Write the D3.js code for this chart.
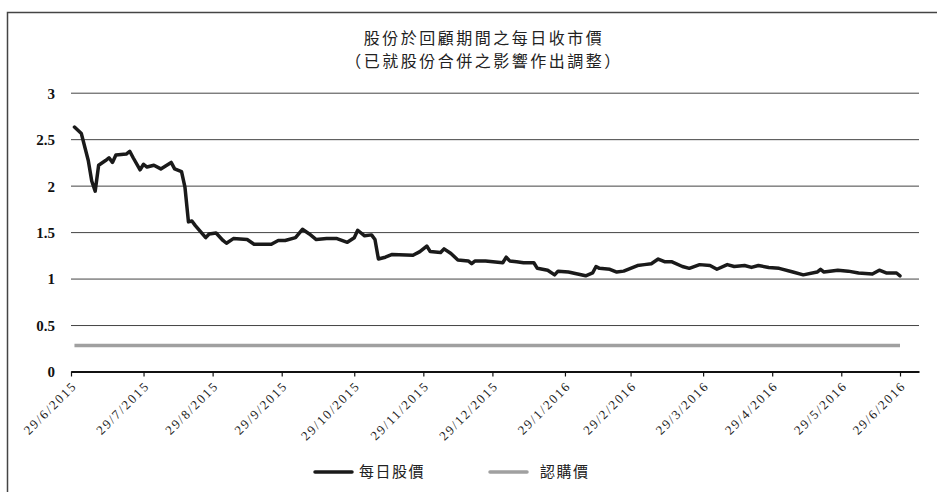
<!DOCTYPE html>
<html>
<head>
<meta charset="utf-8">
<script src="https://cdn.jsdelivr.net/npm/d3@7"></script>
<style>
  body { margin: 0; background: #fff; }
  svg { display: block; }
  .title { font-family: "Noto Sans CJK TC", sans-serif; font-size: 16px; letter-spacing: 2.5px; fill: #222; }
  .legend text { font-family: "Noto Sans CJK TC", sans-serif; font-size: 15px; letter-spacing: 1.5px; fill: #222; }
</style>
</head>
<body>
<div id="chart"></div>
<script>
// chart size
const width = 937,
      height = 492;

// trading-day index of each reading, and the closing price on that day
const dayIdx = [1, 3, 5, 6, 7, 8, 10, 11, 12, 13, 16, 17, 18, 20, 21, 22, 24, 26, 29, 30,
  32, 33, 34, 35, 36, 39, 40, 42, 44, 45, 47, 51, 53, 58, 60, 62, 65, 67, 69, 71,
  74, 77, 80, 82, 83, 85, 87, 88, 89, 91, 93, 99, 101, 103, 104, 107, 108, 110, 112, 115,
  116, 117, 120, 125, 126, 127, 129, 131, 134, 135, 138, 140, 141, 144, 149, 151, 152, 153, 156, 158,
  160, 162, 164, 166, 168, 170, 172, 174, 177, 179, 182, 185, 187, 190, 192, 195, 197, 199, 202, 205,
  209, 212, 216, 217, 218, 222, 225, 228, 232, 234, 236, 239, 240];
const closePrice = [2.63, 2.56, 2.27, 2.05, 1.94, 2.22, 2.27, 2.30, 2.25, 2.33, 2.34, 2.37, 2.30, 2.17, 2.23, 2.20, 2.22, 2.18, 2.25, 2.18,
  2.15, 1.98, 1.61, 1.62, 1.57, 1.44, 1.48, 1.49, 1.41, 1.38, 1.43, 1.42, 1.37, 1.37, 1.41, 1.41, 1.44, 1.53, 1.48, 1.42,
  1.43, 1.43, 1.39, 1.44, 1.52, 1.46, 1.47, 1.42, 1.21, 1.23, 1.26, 1.25, 1.29, 1.35, 1.29, 1.28, 1.32, 1.27, 1.20, 1.19,
  1.16, 1.19, 1.19, 1.17, 1.23, 1.19, 1.18, 1.17, 1.17, 1.11, 1.09, 1.04, 1.08, 1.07, 1.03, 1.06, 1.13, 1.11, 1.10, 1.07,
  1.08, 1.11, 1.14, 1.15, 1.16, 1.21, 1.18, 1.18, 1.13, 1.11, 1.15, 1.14, 1.10, 1.15, 1.13, 1.14, 1.12, 1.14, 1.12, 1.11,
  1.07, 1.04, 1.07, 1.10, 1.07, 1.09, 1.08, 1.06, 1.05, 1.09, 1.06, 1.06, 1.03];

// subscription price (flat)
const subscriptionPrice = 0.28;

// x tick labels and the trading-day index where each sits
const tickLabels = ["29/6/2015", "29/7/2015", "29/8/2015", "29/9/2015", "29/10/2015", "29/11/2015",
  "29/12/2015", "29/1/2016", "29/2/2016", "29/3/2016", "29/4/2016", "29/5/2016", "29/6/2016"];
const tickIdx = [0, 21, 41, 61, 82, 102, 122, 143, 162, 183, 203, 223, 240];
const yTicks = [0, 0.5, 1, 1.5, 2, 2.5, 3];

const titleLines = ["股份於回顧期間之每日收市價", "（已就股份合併之影響作出調整）"];
const seriesNames = ["每日股價", "認購價"];

const serif = '"Liberation Serif", "Times New Roman", serif';
const margin = { left: 71, right: 18, top: 92.7, bottom: 120.5 };

const svg = d3.select("#chart")
              .append("svg")
              .attr("width", width)
              .attr("height", height);

// outer frame (top and left edges visible)
svg.append("path")
   .attr("d", `M7.5,${height} V12.5 H${width}`)
   .attr("fill", "none")
   .attr("stroke", "#444")
   .attr("stroke-width", 1.5);

const x = d3.scaleLinear()
            .domain([0, 245.5])
            .range([margin.left, width - margin.right]);

const y = d3.scaleLinear()
            .domain([0, 3])
            .range([height - margin.bottom, margin.top]);

// title
svg.append("g")
   .selectAll("text")
   .data(titleLines)
   .join("text")
     .attr("class", "title")
     .attr("x", 484)
     .attr("y", (d, i) => 44 + i * 23)
     .attr("text-anchor", "middle")
     .text(d => d);

// y grid + labels
const yAxis = svg.append("g")
   .attr("transform", `translate(${margin.left},0)`)
   .call(d3.axisLeft(y)
           .tickValues(yTicks)
           .tickFormat(d3.format("~g"))
           .tickSize(-(width - margin.right - margin.left))
           .tickPadding(16))
   .attr("font-family", serif)
   .attr("font-size", 15)
   .attr("font-weight", "bold");
yAxis.select(".domain").remove();
yAxis.selectAll(".tick line").attr("stroke", "#444").attr("stroke-width", 1);
yAxis.selectAll(".tick text")
     .attr("dy", "0.36em")
     .attr("fill", "#111");

// subscription price line
svg.append("path")
   .datum([dayIdx[0], d3.max(dayIdx)])
   .attr("fill", "none")
   .attr("stroke", "#a0a0a0")
   .attr("stroke-width", 3.5)
   .attr("d", d3.line().x(d => x(d)).y(() => y(subscriptionPrice)));

// x axis
const xAxis = svg.append("g")
   .attr("transform", `translate(0,${y(0)})`)
   .call(d3.axisBottom(x)
           .tickValues(tickIdx)
           .tickFormat((d, i) => tickLabels[i])
           .tickSizeInner(5)
           .tickSizeOuter(0))
   .attr("font-family", serif)
   .attr("font-size", 13);
xAxis.select(".domain").attr("stroke", "#111").attr("stroke-width", 2);
xAxis.selectAll(".tick line").attr("stroke", "#111").attr("stroke-width", 1.2);
xAxis.selectAll(".tick text")
     .attr("text-anchor", "end")
     .attr("transform", "translate(3,12) rotate(-45)")
     .attr("x", 0)
     .attr("y", 0)
     .attr("dy", "0.35em")
     .attr("letter-spacing", "1.8px")
     .attr("fill", "#222");

// daily closing price line
const priceData = dayIdx.map((d, i) => [d, closePrice[i]]);
svg.append("path")
   .datum(priceData)
   .attr("fill", "none")
   .attr("stroke", "#1a1a1a")
   .attr("stroke-width", 3.5)
   .attr("stroke-linejoin", "round")
   .attr("stroke-linecap", "round")
   .attr("d", d3.line().x(d => x(d[0])).y(d => y(d[1])));

// legend
const legend = svg.append("g").attr("class", "legend");
const legendItems = [
  { name: seriesNames[0], color: "#1a1a1a", x0: 315 },
  { name: seriesNames[1], color: "#a0a0a0", x0: 490 }
];
legendItems.forEach((it, i) => {
  legend.append("line")
        .attr("x1", it.x0).attr("x2", it.x0 + 37)
        .attr("y1", 472).attr("y2", 472)
        .attr("stroke", it.color)
        .attr("stroke-width", 3.5)
        .attr("stroke-linecap", "round");
  legend.append("text")
        .attr("x", it.x0 + 44 + i * 6)
        .attr("y", 472)
        .attr("dy", "0.36em")
        .text(it.name);
});
</script>
</body>
</html>
